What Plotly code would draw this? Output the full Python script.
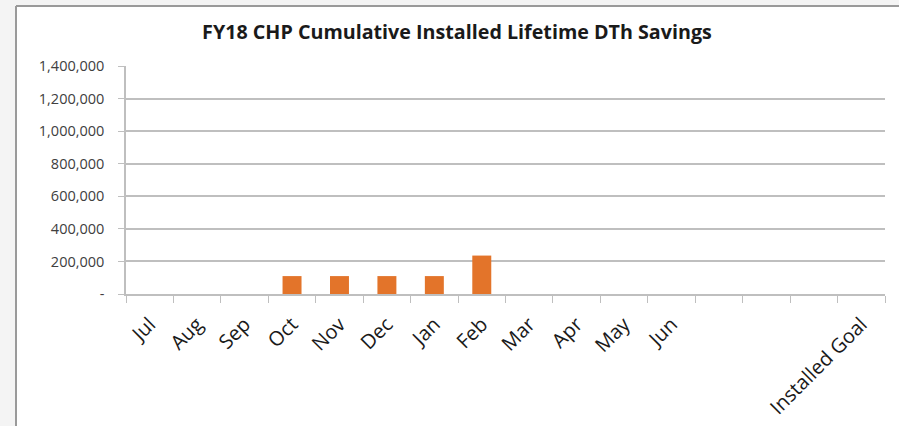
import plotly.graph_objects as go

# Fiscal-year months plus spacer slots and the goal column
categories = ["Jul", "Aug", "Sep", "Oct", "Nov", "Dec", "Jan", "Feb",
              "Mar", "Apr", "May", "Jun", "gap1", "gap2", "gap3", "Installed Goal"]
tick_labels = ["Jul", "Aug", "Sep", "Oct", "Nov", "Dec", "Jan", "Feb",
               "Mar", "Apr", "May", "Jun", "", "", "", "Installed Goal"]
savings = [None, None, None, 110000, 110000, 110000, 110000, 236000,
           None, None, None, None, None, None, None, None]

y_ticks = [0, 200000, 400000, 600000, 800000, 1000000, 1200000, 1400000]
y_tick_text = ["-", "200,000", "400,000", "600,000", "800,000",
               "1,000,000", "1,200,000", "1,400,000"]

W, H = 899, 426
L, R, T, B = 126, 14, 66, 132
pw, ph = W - L - R, H - T - B


def px_x(p):
    return (p - L) / pw


def px_y(p):
    return (H - B - p) / ph


fig = go.Figure(go.Bar(
    x=categories, y=savings,
    marker=dict(color="#E3742A", line=dict(width=0)),
    width=0.4,
))

# page frame: light gray strip on top and left with a thin border
page_shapes = [
    dict(type="rect", xref="paper", yref="paper", x0=px_x(-5), x1=px_x(W + 5),
         y0=px_y(6), y1=px_y(-5), fillcolor="#f4f4f4", line=dict(width=0), layer="below"),
    dict(type="rect", xref="paper", yref="paper", x0=px_x(-5), x1=px_x(15),
         y0=px_y(H + 5), y1=px_y(-5), fillcolor="#f4f4f4", line=dict(width=0), layer="below"),
    dict(type="line", xref="paper", yref="paper", x0=px_x(16), x1=px_x(W + 5),
         y0=px_y(6), y1=px_y(6), line=dict(color="#9a9a9a", width=2)),
    dict(type="line", xref="paper", yref="paper", x0=px_x(16), x1=px_x(16),
         y0=px_y(6), y1=px_y(H + 5), line=dict(color="#9a9a9a", width=2)),
]

fig.update_layout(
    width=W, height=H,
    margin=dict(l=L, r=R, t=T, b=B, pad=0, autoexpand=False),
    paper_bgcolor="white", plot_bgcolor="white",
    showlegend=False,
    font=dict(family="Open Sans", color="#404040", size=13),
    title=dict(text="<b>FY18 CHP Cumulative Installed Lifetime DTh Savings</b>",
               x=0.5083, xanchor="center", y=1 - 32 / H, yanchor="middle",
               font=dict(family="Open Sans", size=19.7, color="#1a1a1a")),
    shapes=page_shapes,
    bargap=0.6,
)

fig.update_xaxes(
    type="category", categoryorder="array", categoryarray=categories,
    tickvals=categories, ticktext=tick_labels, tickangle=-45,
    tickson="boundaries", ticks="outside", ticklen=7, tickcolor="#bfbfbf",
    showline=True, linecolor="#bfbfbf", linewidth=1.5, showgrid=False,
    tickfont=dict(family="Open Sans", size=20, color="#1a1a1a"),
    ticklabelstandoff=9, automargin=False, fixedrange=True,
)

fig.update_yaxes(
    range=[0, 1400000], tickvals=y_ticks, ticktext=y_tick_text,
    ticks="outside", ticklen=6, tickcolor="#bfbfbf",
    showline=True, linecolor="#bfbfbf", linewidth=1.5,
    showgrid=True, gridcolor="#bfbfbf", gridwidth=1.5,
    tickfont=dict(family="Open Sans", size=14.5, color="#404040"),
    ticklabelstandoff=11, automargin=False, zeroline=False, fixedrange=True,
)

fig.write_html("out.html")
